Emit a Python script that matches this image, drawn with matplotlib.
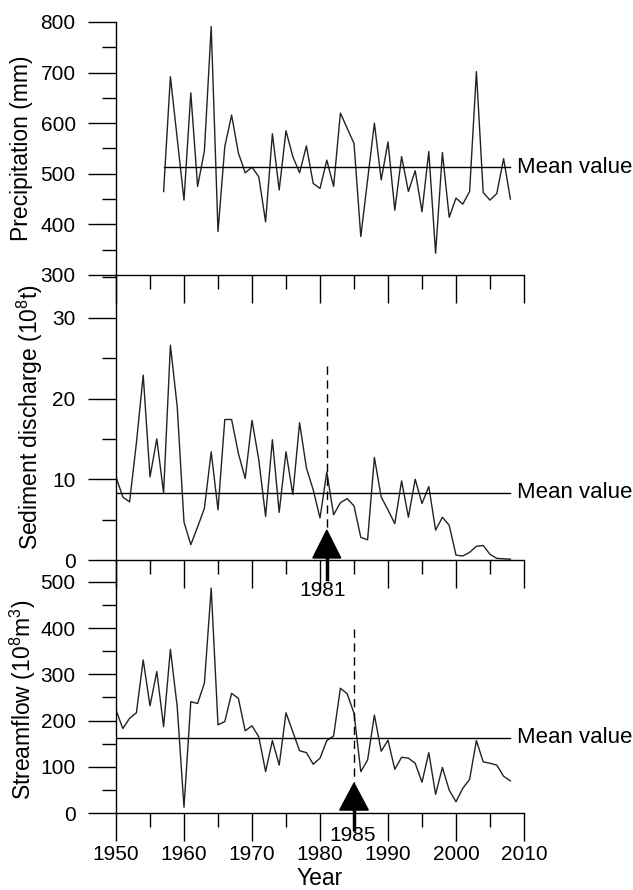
import matplotlib
matplotlib.use("Agg")
import matplotlib.pyplot as plt
from matplotlib.ticker import MultipleLocator
from matplotlib.patches import Polygon

plt.rcParams['font.family'] = ['Liberation Sans', 'DejaVu Sans']
plt.rcParams['mathtext.fontset'] = 'custom'
plt.rcParams['mathtext.rm'] = 'Liberation Sans'
plt.rcParams['mathtext.it'] = 'Liberation Sans'

# ---------------- data ----------------
precip_years = list(range(1957, 2009))
precip = [465, 692, 570, 448, 660, 475, 545, 791, 386, 554, 616, 541, 502, 513,
          494, 405, 579, 468, 585, 534, 502, 555, 481, 471, 527, 475, 620, 590,
          560, 376, 488, 600, 488, 563, 428, 534, 465, 506, 425, 544, 343, 542,
          414, 452, 440, 465, 702, 463, 448, 461, 530, 450]
precip_mean = 513

years = list(range(1950, 2009))
sediment = [10.3, 7.8, 7.2, 14.5, 22.9, 10.3, 15.0, 8.3, 26.6, 19.0,
            4.7, 1.9, 4.1, 6.4, 13.4, 6.2, 17.4, 17.4, 13.2, 10.1,
            17.3, 12.4, 5.4, 14.9, 5.9, 13.4, 8.1, 17.0, 11.4, 8.7,
            5.2, 10.9, 5.6, 7.1, 7.6, 6.7, 2.8, 2.5, 12.7, 7.8,
            6.2, 4.5, 9.8, 5.3, 10.0, 7.0, 9.1, 3.7, 5.3, 4.3,
            0.6, 0.5, 0.95, 1.7, 1.8, 0.7, 0.2, 0.15, 0.1]
sediment_mean = 8.3

streamflow = [223, 183, 205, 217, 331, 232, 306, 187, 354, 230,
              13, 241, 237, 281, 486, 191, 198, 259, 248, 178,
              189, 165, 90, 157, 104, 217, 176, 135, 131, 106,
              119, 157, 167, 270, 258, 216, 90, 115, 212, 134,
              158, 95, 121, 119, 108, 67, 131, 41, 99, 50,
              25, 54, 73, 157, 111, 108, 104, 80, 70]
streamflow_mean = 163

sed_change_year = 1981
flow_change_year = 1985

# ---------------- figure ----------------
W, H = 633, 890
fig = plt.figure(figsize=(W / 100, H / 100), dpi=100)

def px_axes(x0, x1, ytop, ybot):
    return fig.add_axes([x0 / W, 1 - ybot / H, (x1 - x0) / W, (ybot - ytop) / H])

ax1 = px_axes(116, 524, 22, 275)
ax2 = px_axes(116, 524, 275, 560)
ax3 = px_axes(116, 524, 560, 813.3)

lc = '#222222'
tick_fs = 15
lab_fs = 16.5
mean_fs = 16

for ax in (ax1, ax2, ax3):
    ax.set_xlim(1950, 2010)
    for s in ('top', 'right'):
        ax.spines[s].set_visible(False)
    ax.spines['left'].set_linewidth(1.0)
    ax.spines['bottom'].set_linewidth(1.0)
    ax.xaxis.set_major_locator(MultipleLocator(10))
    ax.xaxis.set_minor_locator(MultipleLocator(5))
    ax.tick_params(axis='both', which='major', direction='out', length=20, width=1,
                   labelsize=tick_fs)
    ax.tick_params(axis='x', which='major', pad=3)
    ax.tick_params(axis='y', which='major', pad=9)
    ax.tick_params(axis='both', which='minor', direction='out', length=10, width=1)
    ax.set_facecolor('none')

ax1.tick_params(axis='x', labelbottom=False)
ax2.tick_params(axis='x', labelbottom=False)

# panel 1
ax1.set_ylim(300, 800)
ax1.yaxis.set_major_locator(MultipleLocator(100))
ax1.yaxis.set_minor_locator(MultipleLocator(50))
ax1.plot(precip_years, precip, color=lc, lw=1.0)
ax1.plot([precip_years[0], precip_years[-1]], [precip_mean, precip_mean], color='black', lw=1.0)
ax1.text(2008.9, precip_mean, 'Mean value', fontsize=mean_fs, ha='left', va='center')
ax1.set_ylabel('Precipitation (mm)', fontsize=lab_fs)
ax1.yaxis.set_label_coords(-0.203, 0.5)

# panel 2
ax2.set_ylim(0, 35.3)
ax2.yaxis.set_major_locator(MultipleLocator(10))
ax2.yaxis.set_minor_locator(MultipleLocator(5))
ax2.set_yticks([0, 10, 20, 30])
ax2.plot(years, sediment, color=lc, lw=1.0)
ax2.plot([years[0], years[-1]], [sediment_mean, sediment_mean], color='black', lw=1.0)
ax2.text(2008.9, sediment_mean, 'Mean value', fontsize=mean_fs, ha='left', va='center')
ax2.set_ylabel('Sediment discharge (10$^8$t)', fontsize=lab_fs)
ax2.yaxis.set_label_coords(-0.175, 0.5)
ax2.plot([sed_change_year, sed_change_year], [24, 3.7], color='black', lw=1.0,
         ls=(0, (6, 4)))
ax2.add_patch(Polygon([[sed_change_year, 3.7], [sed_change_year - 2.05, 0.25],
                       [sed_change_year + 2.05, 0.25]], closed=True,
                      facecolor='black', edgecolor='black', clip_on=False, zorder=5))
ax2.plot([sed_change_year, sed_change_year], [0.25, -2.3], color='black', lw=2.5,
         clip_on=False, zorder=5)
ax2.text(sed_change_year - 0.6, -3.8, str(sed_change_year), fontsize=tick_fs,
         ha='center', va='center', clip_on=False)

# panel 3
ax3.set_ylim(0, 546.8)
ax3.yaxis.set_major_locator(MultipleLocator(100))
ax3.yaxis.set_minor_locator(MultipleLocator(50))
ax3.set_yticks([0, 100, 200, 300, 400, 500])
ax3.plot(years, streamflow, color=lc, lw=1.0)
ax3.plot([years[0], years[-1]], [streamflow_mean, streamflow_mean], color='black', lw=1.0)
ax3.text(2008.9, streamflow_mean, 'Mean value', fontsize=mean_fs, ha='left', va='center')
ax3.set_ylabel('Streamflow (10$^8$m$^3$)', fontsize=lab_fs)
ax3.yaxis.set_label_coords(-0.19, 0.45)
ax3.plot([flow_change_year, flow_change_year], [397, 65], color='black', lw=1.0,
         ls=(0, (6, 4)))
ax3.add_patch(Polygon([[flow_change_year, 65], [flow_change_year - 2.1, 7],
                       [flow_change_year + 2.1, 7]], closed=True,
                      facecolor='black', edgecolor='black', clip_on=False, zorder=5))
ax3.plot([flow_change_year, flow_change_year], [7, -33], color='black', lw=2.5,
         clip_on=False, zorder=5)
ax3.text(flow_change_year - 0.15, -47, str(flow_change_year), fontsize=tick_fs,
         ha='center', va='center', clip_on=False)
ax3.set_xlabel('Year', fontsize=lab_fs, labelpad=2)

fig.savefig('out.png', dpi=100, facecolor='white')
